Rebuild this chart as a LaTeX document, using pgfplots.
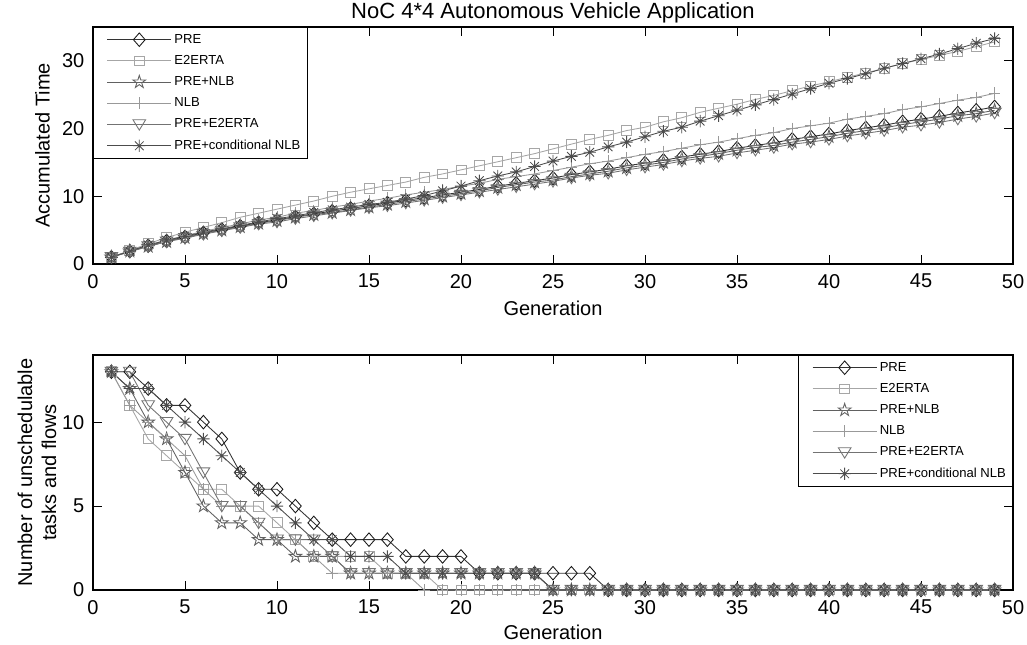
\documentclass[border=0pt]{standalone}
\usepackage{fontspec}
\setmainfont{Liberation Sans}
\usepackage{pgfplots}
\usepackage{pgfplotstable}
\pgfplotsset{compat=1.18}
\usetikzlibrary{plotmarks}

\pgfdeclareplotmark{mdiamond}{%
 \pgfpathmoveto{\pgfqpoint{0pt}{1.15\pgfplotmarksize}}%
 \pgfpathlineto{\pgfqpoint{\pgfplotmarksize}{0pt}}%
 \pgfpathlineto{\pgfqpoint{0pt}{-1.15\pgfplotmarksize}}%
 \pgfpathlineto{\pgfqpoint{-\pgfplotmarksize}{0pt}}%
 \pgfpathclose\pgfusepathqstroke}
\pgfdeclareplotmark{mtri}{%
 \pgfpathmoveto{\pgfqpoint{-1.1\pgfplotmarksize}{0.8\pgfplotmarksize}}%
 \pgfpathlineto{\pgfqpoint{1.1\pgfplotmarksize}{0.8\pgfplotmarksize}}%
 \pgfpathlineto{\pgfqpoint{0pt}{-\pgfplotmarksize}}%
 \pgfpathclose\pgfusepathqstroke}
\pgfdeclareplotmark{mstar}{%
 \pgfpathmoveto{\pgfqpoint{0pt}{\pgfplotmarksize}}\pgfpathlineto{\pgfqpoint{0pt}{-\pgfplotmarksize}}%
 \pgfpathmoveto{\pgfqpoint{\pgfplotmarksize}{0pt}}\pgfpathlineto{\pgfqpoint{-\pgfplotmarksize}{0pt}}%
 \pgfpathmoveto{\pgfqpoint{0.707\pgfplotmarksize}{0.707\pgfplotmarksize}}\pgfpathlineto{\pgfqpoint{-0.707\pgfplotmarksize}{-0.707\pgfplotmarksize}}%
 \pgfpathmoveto{\pgfqpoint{-0.707\pgfplotmarksize}{0.707\pgfplotmarksize}}\pgfpathlineto{\pgfqpoint{0.707\pgfplotmarksize}{-0.707\pgfplotmarksize}}%
 \pgfusepathqstroke}
\pgfdeclareplotmark{pentagram}{%
 \pgfpathmoveto{\pgfqpoint{0pt}{\pgfplotmarksize}}%
 \pgfpathlineto{\pgfqpoint{0.2245\pgfplotmarksize}{0.309\pgfplotmarksize}}%
 \pgfpathlineto{\pgfqpoint{0.951\pgfplotmarksize}{0.309\pgfplotmarksize}}%
 \pgfpathlineto{\pgfqpoint{0.363\pgfplotmarksize}{-0.118\pgfplotmarksize}}%
 \pgfpathlineto{\pgfqpoint{0.588\pgfplotmarksize}{-0.809\pgfplotmarksize}}%
 \pgfpathlineto{\pgfqpoint{0pt}{-0.382\pgfplotmarksize}}%
 \pgfpathlineto{\pgfqpoint{-0.588\pgfplotmarksize}{-0.809\pgfplotmarksize}}%
 \pgfpathlineto{\pgfqpoint{-0.363\pgfplotmarksize}{-0.118\pgfplotmarksize}}%
 \pgfpathlineto{\pgfqpoint{-0.951\pgfplotmarksize}{0.309\pgfplotmarksize}}%
 \pgfpathlineto{\pgfqpoint{-0.2245\pgfplotmarksize}{0.309\pgfplotmarksize}}%
 \pgfpathclose\pgfusepathqstroke}

\pgfplotstableread{
g pre e2 pnlb nlb pe2 cnlb
1 1.0 1.0 1.0 1.0 1.0 1.0
2 1.9 2.0 1.9 1.9 1.8 1.9
3 2.7 3.0 2.6 2.8 2.6 2.8
4 3.4 3.9 3.3 3.5 3.3 3.5
5 4.0 4.7 3.9 4.2 3.8 4.1
6 4.6 5.4 4.5 4.8 4.4 4.7
7 5.1 6.1 5.0 5.4 4.9 5.2
8 5.6 6.9 5.5 5.9 5.4 5.7
9 6.1 7.5 6.0 6.5 5.9 6.2
10 6.5 8.1 6.4 6.9 6.2 6.7
11 7.0 8.7 6.9 7.5 6.7 7.1
12 7.4 9.3 7.3 7.9 7.1 7.6
13 7.8 10.0 7.6 8.4 7.5 8.0
14 8.2 10.6 8.0 8.8 7.9 8.4
15 8.6 11.1 8.4 9.3 8.3 8.8
16 9.0 11.6 8.8 9.7 8.6 9.1
17 9.4 12.1 9.2 10.2 9.0 9.6
18 9.8 12.8 9.6 10.6 9.4 10.1
19 10.2 13.3 10.0 11.0 9.8 10.8
20 10.6 13.9 10.4 11.5 10.2 11.5
21 11.0 14.5 10.8 11.9 10.6 12.3
22 11.5 15.1 11.3 12.5 11.0 13.0
23 11.9 15.7 11.7 12.9 11.4 13.6
24 12.3 16.3 12.1 13.3 11.8 14.4
25 12.7 17.0 12.4 13.8 12.2 15.2
26 13.2 17.7 12.9 14.3 12.7 15.9
27 13.6 18.4 13.3 14.8 13.1 16.5
28 14.0 19.0 13.7 15.2 13.4 17.3
29 14.5 19.7 14.2 15.7 13.9 18.0
30 14.9 20.2 14.6 16.2 14.3 18.8
31 15.3 21.0 15.0 16.6 14.7 19.6
32 15.8 21.6 15.5 17.1 15.2 20.2
33 16.2 22.4 15.9 17.6 15.6 21.1
34 16.6 23.0 16.3 18.0 15.9 21.9
35 17.1 23.6 16.8 18.5 16.4 22.7
36 17.5 24.3 17.2 19.0 16.8 23.5
37 17.9 24.9 17.5 19.4 17.2 24.3
38 18.4 25.6 18.0 20.0 17.7 25.1
39 18.8 26.3 18.4 20.4 18.0 25.9
40 19.2 26.9 18.8 20.8 18.4 26.7
41 19.7 27.6 19.3 21.4 18.9 27.4
42 20.1 28.2 19.7 21.8 19.3 28.1
43 20.5 28.9 20.1 22.2 19.7 28.9
44 21.0 29.6 20.6 22.8 20.2 29.6
45 21.4 30.2 21.0 23.2 20.5 30.3
46 21.8 30.8 21.4 23.7 20.9 31.0
47 22.3 31.4 21.9 24.2 21.4 31.8
48 22.7 32.1 22.2 24.6 21.8 32.6
49 23.2 32.8 22.7 25.2 22.3 33.3
}\toptab

\pgfplotstableread{
g pre e2 pnlb nlb pe2 cnlb
1 13 13 13 13 13 13
2 13 11 12 11 13 12
3 12 9 10 10 11 12
4 11 8 9 9 10 11
5 11 7 7 8 9 10
6 10 6 5 6 7 9
7 9 6 4 5 5 8
8 7 5 4 5 5 7
9 6 5 3 4 4 6
10 6 4 3 3 3 5
11 5 3 2 3 3 4
12 4 2 2 2 3 3
13 3 2 2 1 2 3
14 3 2 1 1 1 2
15 3 2 1 1 1 2
16 3 1 1 1 1 2
17 2 1 1 1 1 1
18 2 1 1 0 1 1
19 2 0 1 0 1 1
20 2 0 1 0 1 1
21 1 0 1 0 1 1
22 1 0 1 0 1 1
23 1 0 1 0 1 1
24 1 0 1 0 1 1
25 1 0 0 0 0 0
26 1 0 0 0 0 0
27 1 0 0 0 0 0
28 0 0 0 0 0 0
29 0 0 0 0 0 0
30 0 0 0 0 0 0
31 0 0 0 0 0 0
32 0 0 0 0 0 0
33 0 0 0 0 0 0
34 0 0 0 0 0 0
35 0 0 0 0 0 0
36 0 0 0 0 0 0
37 0 0 0 0 0 0
38 0 0 0 0 0 0
39 0 0 0 0 0 0
40 0 0 0 0 0 0
41 0 0 0 0 0 0
42 0 0 0 0 0 0
43 0 0 0 0 0 0
44 0 0 0 0 0 0
45 0 0 0 0 0 0
46 0 0 0 0 0 0
47 0 0 0 0 0 0
48 0 0 0 0 0 0
49 0 0 0 0 0 0
}\bottab

\pgfplotsset{
 every axis title shift=0pt,
 mystyle/.style={
  scale only axis, width=690pt, clip=false,
  xmin=0, xmax=50, xtick={0,5,...,50},
  tick align=inside, major tick length=7pt,
  every tick/.style={black, line width=0.6pt},
  axis line style={line width=0.8pt},
  ticklabel style={font=\fontsize{15}{18}\selectfont},
  xticklabel style={yshift=-4pt},
  yticklabel style={xshift=-3pt},
  /pgf/number format/assume math mode=true,
  label style={font=\fontsize{15}{18}\selectfont},
  legend cell align=left,
  legend style={font=\fontsize{9.8}{12}\selectfont, draw=black, line width=0.8pt, row sep=3.6pt, inner xsep=3pt, inner ysep=3pt},
  legend image code/.code={\path (0pt,0pt); \draw[mark repeat=2,mark phase=2] plot coordinates {(7pt,0pt)(31pt,0pt)(55pt,0pt)};},
 },
 sPRE/.style={black!80, line width=0.65pt, mark=mdiamond, mark size=4.4pt, mark options={solid, black!90}},
 sE2/.style={black!35, line width=0.65pt, mark=square, mark size=3.7pt, mark options={solid}},
 sPNLB/.style={black!62, line width=0.65pt, mark=pentagram, mark size=5pt, mark options={solid}},
 sNLB/.style={black!40, line width=0.65pt, mark=+, mark size=4.4pt, mark options={solid}},
 sPE2/.style={black!55, line width=0.65pt, mark=mtri, mark size=4.3pt, mark options={solid}},
 sCNLB/.style={black!70, line width=0.65pt, mark=mstar, mark size=4.6pt, mark options={solid}},
}

\begin{document}
\begin{tikzpicture}
\begin{axis}[mystyle, at={(0pt,244.5pt)}, anchor=south west, height=177.75pt,
  ymin=0, ymax=35, ytick={0,10,20,30},
  xlabel={Generation}, ylabel={Accumulated Time},
  xlabel style={at={(axis description cs:0.5,-0.186)}, anchor=center},
  ylabel style={at={(axis description cs:-0.055,0.5)}, anchor=center},
  title={NoC 4*4 Autonomous Vehicle Application},
  title style={at={(axis description cs:0.5,1.058)}, anchor=center, font=\fontsize{16.5}{19}\selectfont},
  legend style={at={(0,1)}, anchor=north west}]
\addplot[sPRE] table[x=g,y=pre] {\toptab};
\addplot[sE2] table[x=g,y=e2] {\toptab};
\addplot[sPNLB] table[x=g,y=pnlb] {\toptab};
\addplot[sNLB] table[x=g,y=nlb] {\toptab};
\addplot[sPE2] table[x=g,y=pe2] {\toptab};
\addplot[sCNLB] table[x=g,y=cnlb] {\toptab};
\legend{PRE,E2ERTA,PRE+NLB,NLB,PRE+E2ERTA,PRE+conditional NLB}
\end{axis}
\begin{axis}[mystyle, at={(0pt,0pt)}, anchor=south west, height=176.25pt,
  ymin=0, ymax=14, ytick={0,5,10},
  xlabel={Generation}, ylabel={Number of unschedulable\\tasks and flows},
  xlabel style={at={(axis description cs:0.5,-0.182)}, anchor=center},
  ylabel style={at={(axis description cs:-0.061,0.5)}, anchor=center, align=center},
  legend style={at={(1,1)}, anchor=north east}]
\addplot[sPRE] table[x=g,y=pre] {\bottab};
\addplot[sE2] table[x=g,y=e2] {\bottab};
\addplot[sPNLB] table[x=g,y=pnlb] {\bottab};
\addplot[sNLB] table[x=g,y=nlb] {\bottab};
\addplot[sPE2] table[x=g,y=pe2] {\bottab};
\addplot[sCNLB] table[x=g,y=cnlb] {\bottab};
\legend{PRE,E2ERTA,PRE+NLB,NLB,PRE+E2ERTA,PRE+conditional NLB}
\end{axis}
\pgfresetboundingbox
\path (-69.75pt,-41.25pt) rectangle (700.5pt,442.5pt);
\end{tikzpicture}
\end{document}
